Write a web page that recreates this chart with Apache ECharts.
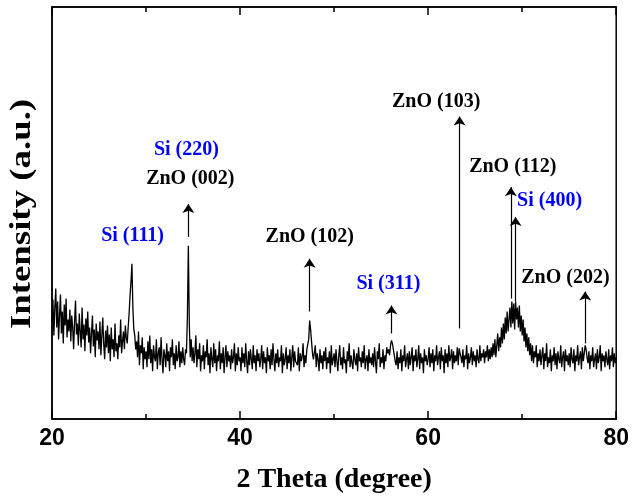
<!DOCTYPE html>
<html>
<head>
<meta charset="utf-8">
<script src="https://cdn.jsdelivr.net/npm/echarts@6/dist/echarts.min.js"></script>
<style>
  html, body { margin: 0; padding: 0; background: #fff; }
  #main { width: 632px; height: 499px; }
</style>
</head>
<body>
<div id="main"></div>
<script>
// scan grid: 2theta from 20 to 80 deg, 0.1 deg per point
var thetaStart = 20;
var thetaStep = 0.1;

// intensity (a.u.), one row per degree
var scan20to30 = [
    98, 120, 84, 112, 131, 92, 118, 80, 104, 125,
    86, 108, 76, 115, 94, 121, 82, 100, 88, 110,
    78, 104, 92, 70, 98, 119, 85, 96, 74, 106,
    88, 72, 112, 80, 95, 68, 101, 84, 108, 77,
    92, 66, 86, 104, 73, 90, 62, 96, 79, 88,
    70, 98, 64, 84, 102, 75, 60, 89, 72, 94,
    66, 85, 58, 92, 70, 80, 62, 96, 68, 76,
    60, 84, 72, 100, 66, 78, 88, 70, 94, 82,
    76, 92, 106, 124, 138, 156, 112, 90, 84, 70,
    78, 62, 88, 54, 74, 66, 82, 50, 72, 60
];
var scan30to40 = [
    68, 52, 78, 60, 84, 56, 70, 48, 74, 62,
    58, 80, 50, 66, 72, 54, 82, 60, 46, 70,
    64, 52, 76, 58, 68, 48, 72, 62, 80, 54,
    66, 50, 74, 58, 62, 78, 52, 68, 56, 72,
    60, 54, 70, 66, 104, 174, 96, 62, 80, 58,
    72, 56, 66, 84, 52, 70, 60, 76, 48, 64,
    58, 74, 50, 68, 62, 80, 54, 66, 46, 72,
    60, 52, 76, 56, 70, 48, 64, 58, 78, 50,
    66, 56, 72, 46, 62, 74, 52, 68, 58, 64,
    50, 70, 56, 62, 76, 48, 66, 54, 72, 58
];
var scan40to50 = [
    62, 48, 72, 56, 66, 52, 76, 58, 46, 68,
    54, 70, 60, 50, 74, 56, 64, 48, 70, 58,
    66, 52, 60, 74, 50, 68, 56, 62, 46, 72,
    58, 64, 50, 70, 54, 76, 60, 48, 66, 56,
    70, 52, 62, 58, 74, 46, 66, 54, 60, 72,
    50, 64, 56, 70, 48, 62, 74, 52, 68, 58,
    60, 54, 72, 48, 66, 58, 62, 76, 52, 64,
    56, 70, 68, 80, 99, 90, 78, 66, 60, 58,
    74, 52, 66, 60, 48, 70, 56, 64, 50, 68,
    58, 72, 50, 62, 56, 68, 46, 74, 54, 60
];
var scan50to60 = [
    66, 52, 70, 58, 48, 64, 74, 54, 62, 50,
    72, 56, 60, 46, 68, 58, 76, 52, 64, 56,
    50, 70, 60, 54, 66, 48, 72, 58, 62, 52,
    68, 56, 74, 50, 60, 64, 48, 70, 56, 62,
    54, 66, 52, 72, 58, 46, 68, 60, 76, 52,
    62, 56, 70, 50, 64, 58, 72, 66, 70, 64,
    74, 79, 76, 78, 64, 58, 54, 68, 50, 62,
    56, 70, 48, 64, 58, 74, 52, 60, 66, 50,
    68, 54, 62, 72, 48, 64, 58, 70, 52, 60,
    74, 50, 66, 56, 62, 46, 70, 58, 64, 54
];
var scan60to70 = [
    60, 72, 52, 66, 56, 70, 48, 64, 58, 74,
    54, 62, 68, 50, 72, 58, 64, 46, 70, 56,
    66, 52, 74, 58, 62, 70, 50, 68, 56, 64,
    58, 72, 54, 71, 66, 62, 56, 70, 52, 64,
    60, 74, 50, 66, 56, 62, 72, 54, 68, 58,
    64, 52, 70, 60, 56, 74, 58, 66, 62, 70,
    56, 68, 62, 74, 58, 70, 60, 72, 62, 76,
    64, 80, 62, 74, 86, 68, 82, 72, 92, 76,
    96, 80, 102, 86, 108, 88, 100, 112, 92, 118,
    96, 116, 90, 118, 100, 112, 92, 114, 88, 104
];
var scan70to80 = [
    84, 100, 78, 92, 72, 86, 68, 82, 64, 76,
    58, 74, 56, 68, 62, 74, 52, 66, 58, 70,
    54, 64, 72, 50, 66, 58, 76, 52, 62, 56,
    70, 48, 64, 58, 72, 54, 66, 50, 68, 60,
    56, 74, 52, 62, 68, 48, 70, 58, 64, 54,
    66, 52, 72, 60, 56, 70, 48, 64, 58, 74,
    54, 62, 68, 50, 72, 58, 66, 74, 70, 62,
    56, 68, 50, 64, 58, 72, 52, 60, 66, 50,
    70, 56, 62, 74, 48, 66, 58, 64, 52, 68,
    60, 54, 70, 50, 64, 58, 72, 52, 66, 56,
    62
];

// peak arrows: position, arrow tail and head intensity
var arrowTheta = [34.5, 47.4, 56.1, 63.35, 68.8, 69.3, 76.7];
var arrowFrom  = [183, 108, 86, 91, 121, 118, 76];
var arrowTo    = [216, 161, 114, 304, 233, 203, 128];

// peak labels (Si in blue, ZnO in black)
var labelText  = ['Si (111)', 'Si (220)', 'ZnO (002)', 'ZnO (102)', 'Si (311)', 'ZnO (103)', 'ZnO (112)', 'Si (400)', 'ZnO (202)'];
var labelTheta = [28.57, 34.29, 34.71, 47.41, 55.77, 60.85, 69.0, 72.91, 74.6];
var labelInt   = [184, 270, 241, 183, 136, 319, 253, 219, 142];

var intensity = [].concat(scan20to30, scan30to40, scan40to50, scan50to60, scan60to70, scan70to80);
var scan = [];
for (var i = 0; i < intensity.length; i++) {
    scan.push([+(thetaStart + i * thetaStep).toFixed(2), intensity[i]]);
}

var arrows = [];
for (var j = 0; j < arrowTheta.length; j++) {
    arrows.push([{coord: [arrowTheta[j], arrowFrom[j]]}, {coord: [arrowTheta[j], arrowTo[j]]}]);
}

var labels = [];
for (var k = 0; k < labelText.length; k++) {
    labels.push({
        value: [labelTheta[k], labelInt[k]],
        name: labelText[k],
        label: {color: labelText[k].indexOf('Si') === 0 ? '#0000ff' : '#000'}
    });
}

var serif = '"Liberation Serif", "Times New Roman", serif';
var tickFont = '"Liberation Sans Narrow", "Liberation Sans", Arial, sans-serif';

var myChart = echarts.init(document.getElementById('main'));
var option = {
    animation: false,
    grid: {left: 52, right: 13, top: 7, bottom: 78, show: true, borderColor: '#000', borderWidth: 1.5},
    // y title is stretched along its length in the original
    graphic: [{
        type: 'text',
        x: 23,
        y: 214,
        rotation: Math.PI / 2,
        scaleX: 1.27,
        style: {
            text: 'Intensity (a.u.)',
            font: 'bold 29px ' + serif,
            fill: '#000',
            textAlign: 'center',
            textVerticalAlign: 'middle'
        }
    }],
    xAxis: [{
        type: 'value',
        min: 20,
        max: 80,
        interval: 20,
        name: '2 Theta (degree)',
        nameLocation: 'middle',
        nameGap: 47,
        nameTextStyle: {fontFamily: serif, fontWeight: 'bold', fontSize: 28, color: '#000'},
        axisLine: {show: true, lineStyle: {color: '#000', width: 1.5}},
        axisTick: {inside: true, length: 8, lineStyle: {color: '#000', width: 1.5}},
        minorTick: {show: true, splitNumber: 2, length: 5, lineStyle: {color: '#000', width: 1.5}},
        axisLabel: {margin: 8, fontFamily: tickFont, fontWeight: 'bold', fontSize: 23, color: '#000'},
        splitLine: {show: false}
    }, {
        type: 'value',
        position: 'top',
        min: 20,
        max: 80,
        interval: 20,
        axisLine: {show: true, lineStyle: {color: '#000', width: 1.5}},
        axisTick: {inside: true, length: 8, lineStyle: {color: '#000', width: 1.5}},
        minorTick: {show: true, splitNumber: 2, length: 5, lineStyle: {color: '#000', width: 1.5}},
        axisLabel: {show: false},
        splitLine: {show: false}
    }],
    yAxis: {
        type: 'value',
        min: 0,
        max: 414,
        axisLine: {show: true, lineStyle: {color: '#000', width: 1.5}},
        axisTick: {show: false},
        axisLabel: {show: false},
        splitLine: {show: false}
    },
    series: [{
        type: 'line',
        data: scan,
        symbol: 'none',
        lineStyle: {color: '#000', width: 1.3},
        markLine: {
            silent: true,
            symbol: ['none', 'arrow'],
            symbolSize: 9,
            label: {show: false},
            lineStyle: {color: '#000', width: 1.2, type: 'solid'},
            data: arrows
        }
    }, {
        type: 'scatter',
        data: labels,
        symbolSize: 0,
        silent: true,
        itemStyle: {opacity: 1},
        label: {
            show: true,
            position: 'inside',
            formatter: function (p) { return p.name; },
            fontFamily: serif,
            fontWeight: 'bold',
            fontSize: 20,
            opacity: 1
        }
    }]
};
myChart.setOption(option);
</script>
</body>
</html>
